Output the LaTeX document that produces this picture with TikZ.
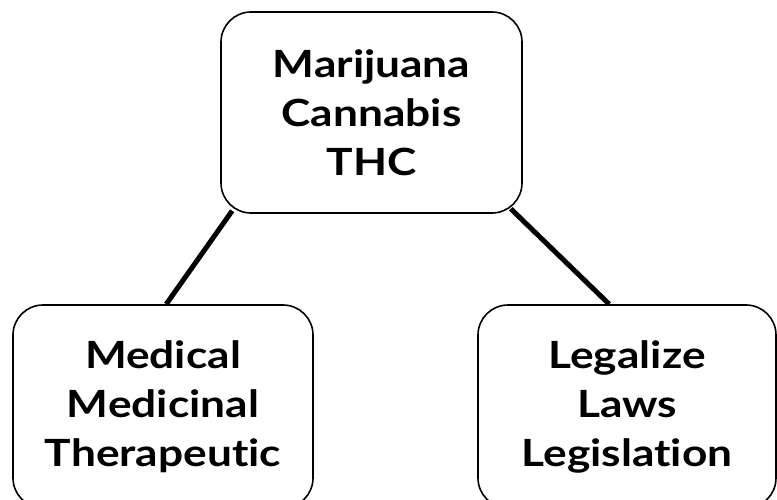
\documentclass[tikz,border=0pt]{standalone}
\usepackage{fontspec}
\setmainfont{Lato}[FakeStretch=1.18, Ligatures=NoCommon]
\usepackage{tikz}
\usetikzlibrary{positioning}

\begin{document}
\begin{tikzpicture}[
  x=1pt, y=-1pt,
  topic/.style={draw=black, line width=1.6pt, rounded corners=30pt, align=center,
                inner sep=0pt, font=\bfseries\fontsize{37.5}{49}\selectfont},
  link/.style={line width=5pt, draw=black}
]
\useasboundingbox (0,0) rectangle (777,500);
\node[topic, minimum width=301pt, minimum height=201pt] (drug) at (371.5,112.5)
  {Marijuana\\Cannabis\\THC};
\node[topic, minimum width=300pt, minimum height=203pt] (medical) at (163,406.5)
  {Medical\\Medicinal\\Therapeutic};
\node[topic, minimum width=298pt, minimum height=203pt] (legal) at (627,406.5)
  {Legalize\\Laws\\Legislation};
\draw[link] ([xshift=12pt,yshift=3pt]drug.south west) -- ([xshift=154pt]medical.north west);
\draw[link] ([xshift=-12pt,yshift=5pt]drug.south east) -- ([xshift=132pt]legal.north west);
\end{tikzpicture}
\end{document}
